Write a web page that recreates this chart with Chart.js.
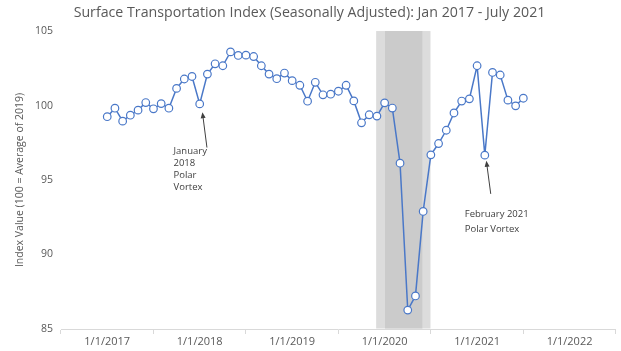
<!DOCTYPE html>
<html>
<head>
<meta charset="utf-8">
<script src="https://cdn.jsdelivr.net/npm/chart.js@4.4.1/dist/chart.umd.min.js"></script>
<style>
  html, body { margin: 0; padding: 0; background: #fff; }
  #wrap { width: 621px; height: 351px; }
</style>
</head>
<body>
<div id="wrap"><canvas id="chartSTI" width="621" height="351"></canvas></div>
<script>
const titleText = 'Surface Transportation Index (Seasonally Adjusted): Jan 2017 - July 2021';
const yAxisTitle = 'Index Value (100 = Average of 2019)';

// monthly index values, month 0 = Jan 2017
const values2017 = [99.25, 99.82, 98.95, 99.35, 99.69, 100.2, 99.78, 100.13, 99.82, 101.15, 101.78, 101.95];
const values2018 = [100.11, 102.11, 102.8, 102.67, 103.6, 103.36, 103.38, 103.29, 102.67, 102.11, 101.8, 102.18];
const values2019 = [101.67, 101.36, 100.29, 101.56, 100.72, 100.76, 100.96, 101.36, 100.31, 98.84, 99.38, 99.29];
const values2020 = [100.18, 99.83, 96.13, 86.27, 87.22, 92.89, 96.69, 97.45, 98.34, 99.5, 100.3, 100.45];
const values2021 = [102.67, 96.67, 102.22, 102.05, 100.36, 99.98, 100.49];

const yearTickMonths = [0, 12, 24, 36, 48, 60];
const yearTickLabels = ['1/1/2017', '1/1/2018', '1/1/2019', '1/1/2020', '1/1/2021', '1/1/2022'];
const yTickValues = [85, 90, 95, 100, 105];

// recession shading (month index)
const bandOuter = [34.9, 41.95];
const bandInner = [36.05, 40.9];

// callouts: text anchor and arrow tail/head in (month, value)
const callouts = [
  { lines: ['January', '2018', 'Polar', 'Vortex'], at: [8.6, 96.9], tail: [12.94, 97.18], head: [12.35, 99.55] },
  { lines: ['February 2021', 'Polar Vortex'], at: [46.4, 92.73], tail: [49.77, 94.07], head: [49.2, 96.29] }
];

const allValues = [].concat(values2017, values2018, values2019, values2020, values2021);
const points = allValues.map((v, i) => ({ x: i, y: v }));

const shadePlugin = {
  id: 'shade',
  beforeDatasetsDraw(chart) {
    const { ctx, chartArea: a, scales: { x } } = chart;
    ctx.save();
    const band = (r, col) => {
      const x0 = x.getPixelForValue(r[0]);
      const x1 = x.getPixelForValue(r[1]);
      ctx.fillStyle = col;
      ctx.fillRect(x0, a.top, x1 - x0, a.bottom - a.top - 0.5);
    };
    band(bandOuter, '#dcdcdc');
    band(bandInner, '#cbcbcb');
    ctx.restore();
  }
};

const calloutPlugin = {
  id: 'callouts',
  afterDatasetsDraw(chart) {
    const { ctx, scales: { x, y } } = chart;
    ctx.save();
    ctx.fillStyle = '#404040';
    ctx.strokeStyle = '#404040';
    ctx.font = '9.5px "Open Sans"';
    ctx.textAlign = 'left';
    ctx.textBaseline = 'middle';
    callouts.forEach(c => {
      const tx = x.getPixelForValue(c.at[0]);
      let ty = y.getPixelForValue(c.at[1]);
      const step = c.lines.length > 2 ? 11.7 : 15;
      c.lines.forEach((l, i) => ctx.fillText(l, tx, ty + i * step));

      const x0 = x.getPixelForValue(c.tail[0]), y0 = y.getPixelForValue(c.tail[1]);
      const x1 = x.getPixelForValue(c.head[0]), y1 = y.getPixelForValue(c.head[1]);
      const ang = Math.atan2(y1 - y0, x1 - x0);
      ctx.lineWidth = 1;
      ctx.beginPath();
      ctx.moveTo(x0, y0);
      ctx.lineTo(x1 - 5 * Math.cos(ang), y1 - 5 * Math.sin(ang));
      ctx.stroke();
      ctx.beginPath();
      ctx.moveTo(x1, y1);
      ctx.lineTo(x1 - 6 * Math.cos(ang) + 2.5 * Math.sin(ang), y1 - 6 * Math.sin(ang) - 2.5 * Math.cos(ang));
      ctx.lineTo(x1 - 6 * Math.cos(ang) - 2.5 * Math.sin(ang), y1 - 6 * Math.sin(ang) + 2.5 * Math.cos(ang));
      ctx.closePath();
      ctx.fill();
    });
    ctx.restore();
  }
};

new Chart(document.getElementById('chartSTI').getContext('2d'), {
  type: 'line',
  data: {
    datasets: [{
      label: 'Surface Transportation Index',
      data: points,
      borderColor: '#4a78c8',
      borderWidth: 1.5,
      pointRadius: 3.8,
      pointBorderWidth: 1.2,
      pointBackgroundColor: '#ffffff',
      pointBorderColor: '#4a78c8',
      tension: 0
    }]
  },
  options: {
    responsive: false,
    animation: false,
    layout: { padding: { left: 0, right: 2, top: 0, bottom: 0 } },
    plugins: {
      legend: { display: false },
      tooltip: { enabled: false },
      title: {
        display: true,
        text: titleText,
        color: '#595959',
        font: { family: 'Open Sans', size: 14.2, weight: 'normal' },
        padding: { top: 4, bottom: 10 }
      }
    },
    scales: {
      x: {
        type: 'linear',
        min: -6,
        max: 66,
        afterBuildTicks: s => { s.ticks = yearTickMonths.map(v => ({ value: v })); },
        ticks: {
          callback: (v, i) => yearTickLabels[i],
          color: '#595959',
          font: { family: 'Open Sans', size: 11 },
          padding: 1,
          maxRotation: 0,
          autoSkip: false
        },
        grid: { offset: true, drawOnChartArea: false, tickLength: 5, color: '#d9d9d9' },
        border: { color: '#d9d9d9' },
        afterFit: s => { s.height = 22; }
      },
      y: {
        min: 85,
        max: 105,
        afterBuildTicks: s => { s.ticks = yTickValues.map(v => ({ value: v })); },
        ticks: { color: '#595959', font: { family: 'Open Sans', size: 10.5 }, padding: 8 },
        grid: { display: false, drawTicks: false },
        border: { display: false },
        title: {
          display: true,
          text: yAxisTitle,
          color: '#595959',
          font: { family: 'Open Sans', size: 10.5 },
          padding: { top: 14.2, bottom: 0 }
        },
        afterFit: s => { s.width = 61; }
      }
    }
  },
  plugins: [shadePlugin, calloutPlugin]
});
</script>
</body>
</html>
